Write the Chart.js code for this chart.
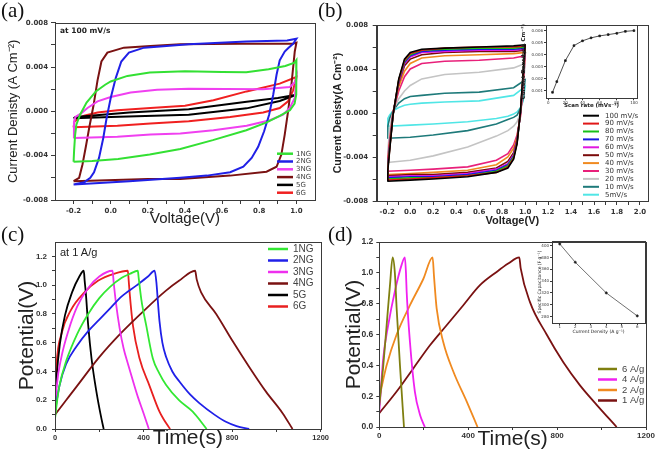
<!DOCTYPE html>
<html>
<head>
<meta charset="utf-8">
<script src="https://cdn.jsdelivr.net/npm/chart.js@4.4.1/dist/chart.umd.min.js"></script>
<style>
  html, body { margin: 0; padding: 0; background: #fff; }
  #fig { position: relative; width: 656px; height: 453px; overflow: hidden; }
  canvas { position: absolute; }
  .tag { position: absolute; font-family: "Liberation Serif", serif; font-size: 21px; line-height: 1; color: #111; }
  .note { position: absolute; white-space: nowrap; line-height: 1; color: #222; }
</style>
</head>
<body>
<div id="fig">
  <canvas id="ca" style="left:0;top:0" width="328" height="226"></canvas>
  <canvas id="cb" style="left:328px;top:0" width="328" height="226"></canvas>
  <canvas id="cc" style="left:0;top:226px" width="330" height="227"></canvas>
  <canvas id="cd" style="left:330px;top:226px" width="326" height="227"></canvas>
  <canvas id="cbi" style="left:518px;top:20px" width="124" height="92"></canvas>
  <canvas id="cdi" style="left:526px;top:236px" width="124" height="101"></canvas>
  <div class="tag" style="left:1px;top:0">(a)</div>
  <div class="tag" style="left:318px;top:0">(b)</div>
  <div class="tag" style="left:1px;top:224px">(c)</div>
  <div class="tag" style="left:328px;top:224px">(d)</div>
  <div class="note" style="left:60px;top:26px;font:bold 7.5px 'DejaVu Sans'">at 100 mV/s</div>
  <div class="note" style="left:60px;top:246px;font:11px 'Liberation Sans'">at 1 A/g</div>
</div>
<script>
// ---- (a) CV loops at 100 mV/s, points are [voltage, current density] ----
const aLabels = ["1NG", "2NG", "3NG", "4NG", "5G", "6G"];
const aColors = ["#33e033", "#2020e6", "#f040f0", "#7a1212", "#000000", "#f02020"];
const cv1NG = [[-0.2,-0.00455],[-0.197,-0.0035],[-0.192,-0.0022],[-0.185,-0.0012],[-0.165,-0.0003],[-0.13,0.0008],[-0.08,0.0018],[-0.03,0.0024],[0.0,0.0027],[0.09,0.0032],[0.21,0.0035],[0.4,0.00362],[0.6,0.00355],[0.73,0.00352],[0.85,0.0038],[0.94,0.0041],[0.99,0.0044],[1.0,0.00463],
  [1.0,0.003],[0.998,0.0015],[0.99,0.0007],[0.965,0.0001],[0.91,-0.0004],[0.84,-0.001],[0.73,-0.0017],[0.55,-0.0026],[0.375,-0.0034],[0.21,-0.0039],[0.04,-0.0043],[-0.1,-0.00448],[-0.2,-0.00455]];
const cv2NG = [[-0.2,-0.0066],[-0.143,-0.0064],[-0.11,-0.006],[-0.09,-0.0055],[-0.063,-0.0042],[-0.04,-0.0024],[-0.022,-0.0006],[0.0,0.0012],[0.027,0.003],[0.057,0.0045],[0.098,0.0053],[0.18,0.00575],[0.42,0.00605],[0.73,0.0063],[0.95,0.0064],[1.0,0.00655],
  [0.982,0.0061],[0.955,0.0057],[0.937,0.0054],[0.91,0.0046],[0.893,0.0033],[0.875,0.0015],[0.853,-0.0003],[0.826,-0.0018],[0.794,-0.0032],[0.759,-0.0042],[0.714,-0.005],[0.643,-0.0055],[0.518,-0.0058],[0.375,-0.006],[0.1,-0.0063],[-0.2,-0.0066]];
const cv3NG = [[-0.2,-0.0024],[-0.198,-0.001],[-0.19,-0.0005],[-0.161,-0.0002],[-0.125,0.0003],[-0.071,0.0009],[0.0,0.0013],[0.107,0.0017],[0.25,0.00195],[0.42,0.00203],[0.82,0.002],[0.964,0.0022],[0.99,0.0026],[1.0,0.0031],
  [0.991,0.0012],[0.964,0.0003],[0.928,-0.0003],[0.857,-0.0008],[0.732,-0.0013],[0.553,-0.0017],[0.375,-0.002],[0.214,-0.0021],[0.036,-0.0023],[-0.2,-0.0024]];
const cv4NG = [[-0.2,-0.0063],[-0.17,-0.006],[-0.152,-0.0048],[-0.134,-0.0032],[-0.116,-0.0015],[-0.093,0.0005],[-0.071,0.0028],[-0.05,0.0045],[-0.018,0.0053],[0.071,0.00575],[0.214,0.0059],[0.375,0.00605],[0.7,0.0061],[0.98,0.0061],[1.0,0.0062],
  [0.991,0.0054],[0.973,0.0024],[0.955,0.0],[0.937,-0.0021],[0.919,-0.0039],[0.893,-0.005],[0.839,-0.00545],[0.643,-0.0058],[0.375,-0.0061],[0.2,-0.0061],[-0.2,-0.0063]];
const cv5G = [[-0.2,-0.00062],[-0.19,-0.0005],[0.1,-0.0001],[0.42,0.0002],[0.732,0.00087],[0.9,0.0012],[1.0,0.0015],
  [0.91,0.00093],[0.732,0.00027],[0.42,-0.0003],[0.0,-0.0005],[-0.2,-0.00062]];
const cv6G = [[-0.2,-0.00144],[-0.195,-0.0009],[-0.17,-0.0006],[-0.143,-0.0004],[-0.071,-0.0001],[0.036,0.0001],[0.214,0.0003],[0.4,0.0005],[0.553,0.001],[0.732,0.0018],[0.91,0.0025],[1.0,0.0031],
  [0.982,0.0019],[0.955,0.0009],[0.91,0.0003],[0.821,-0.0001],[0.643,-0.0005],[0.42,-0.0009],[0.214,-0.0011],[0.036,-0.0013],[-0.2,-0.00144]];

// ---- (b) CV at different scan rates: forward sweep on vUpB, reverse on vDnB ----
const bLabels = ["100 mV/s","90 mV/s","80 mV/s","70 mV/s","60 mV/s","50 mV/s","40 mV/s","30 mV/s","20 mV/s","10 mV/s","5mV/s"];
const bColors = ["#000000","#e01818","#18c018","#1818e0","#e018e0","#7a0a0a","#f08a20","#e8207a","#c4c4c4","#1e7a7a","#50e6e6"];
const vUpB = [-0.2, -0.195, -0.18, -0.15, -0.1, -0.05, 0, 0.1, 0.3, 0.6, 0.9, 1.0];
const vDnB = [1.0, 0.98, 0.96, 0.93, 0.9, 0.85, 0.75, 0.5, 0.2, 0, -0.2];
const up100 = [-0.0062,-0.0052,-0.0035,-0.0002,0.0031,0.0049,0.0055,0.0058,0.0059,0.0060,0.0061,0.0062];
const dn100 = [0.0062,0.0032,0.0002,-0.0028,-0.0042,-0.0050,-0.0054,-0.0058,-0.0060,-0.0061,-0.0062];
const up90 = [-0.0061,-0.0051,-0.0034,-0.0002,0.0030,0.0048,0.0054,0.0057,0.0059,0.0060,0.0060,0.0061];
const dn90 = [0.0061,0.0031,0.0002,-0.0027,-0.0041,-0.0049,-0.0054,-0.0057,-0.0059,-0.0060,-0.0061];
const up80 = [-0.0060,-0.0050,-0.0033,-0.0002,0.0030,0.0047,0.0053,0.0057,0.0058,0.0059,0.0059,0.0060];
const dn80 = [0.0060,0.0030,0.0001,-0.0027,-0.0040,-0.0048,-0.0053,-0.0057,-0.0059,-0.0059,-0.0060];
const up70 = [-0.0059,-0.0049,-0.0032,-0.0002,0.0029,0.0046,0.0052,0.0056,0.0057,0.0058,0.0058,0.0059];
const dn70 = [0.0059,0.0029,0.0001,-0.0026,-0.0039,-0.0047,-0.0052,-0.0056,-0.0058,-0.0058,-0.0059];
const up60 = [-0.0058,-0.0048,-0.0031,-0.0001,0.0028,0.0045,0.0051,0.0055,0.0056,0.0057,0.0057,0.0058];
const dn60 = [0.0058,0.0028,0.0,-0.0025,-0.0038,-0.0046,-0.0051,-0.0055,-0.0057,-0.0057,-0.0058];
const up50 = [-0.0057,-0.0047,-0.0030,-0.0001,0.0027,0.0043,0.0049,0.0053,0.0055,0.0056,0.0056,0.0057];
const dn50 = [0.0057,0.0027,0.0,-0.0024,-0.0036,-0.0044,-0.0050,-0.0054,-0.0056,-0.0056,-0.0057];
const up40 = [-0.0056,-0.0045,-0.0028,0.0,0.0024,0.0038,0.0045,0.0050,0.0052,0.0053,0.0054,0.0055];
const dn40 = [0.0055,0.0025,-0.0001,-0.0022,-0.0032,-0.0040,-0.0047,-0.0052,-0.0054,-0.0055,-0.0056];
const up30 = [-0.0053,-0.0042,-0.0025,0.0001,0.0020,0.0033,0.0040,0.0045,0.0047,0.0048,0.0050,0.0052];
const dn30 = [0.0052,0.0021,-0.0003,-0.0020,-0.0029,-0.0037,-0.0043,-0.0049,-0.0051,-0.0052,-0.0053];
const up20 = [-0.0045,-0.0035,-0.0015,0.0002,0.0013,0.0020,0.0025,0.0031,0.0035,0.0037,0.0041,0.0045];
const dn20 = [0.0045,0.0018,0.0,-0.0008,-0.0012,-0.0016,-0.0021,-0.0031,-0.0039,-0.0043,-0.0045];
const up10 = [-0.0023,-0.0012,-0.0005,0.0002,0.0009,0.0013,0.0015,0.0016,0.0018,0.0019,0.0023,0.0030];
const dn10 = [0.0030,0.0012,0.0004,-0.0002,-0.0004,-0.0006,-0.0010,-0.0016,-0.0020,-0.0022,-0.0023];
const up5 = [-0.0012,-0.0005,-0.0002,0.0002,0.0005,0.0007,0.0008,0.0009,0.0010,0.0011,0.0016,0.0024];
const dn5 = [0.0024,0.0010,0.0005,0.0001,-0.0001,-0.0003,-0.0005,-0.0008,-0.0010,-0.0011,-0.0012];

// inset of (b)
const scanRate = [5, 10, 20, 30, 40, 50, 60, 70, 80, 90, 100];
const peakCurrent = [0.00086, 0.00175, 0.0035, 0.00475, 0.00515, 0.0054, 0.00556, 0.00567, 0.00578, 0.00594, 0.006];

// ---- (c) charge/discharge at 1 A/g, points are [time s, potential V] ----
const cLabels = ["1NG", "2NG", "3NG", "4NG", "5G", "6G"];
const cColors = ["#33e833", "#2020e8", "#ee30ee", "#7a1212", "#000000", "#e82020"];
const gcd1NG = [[0,0.07],[10,0.2],[20,0.3],[50,0.47],[100,0.66],[150,0.8],[200,0.91],[250,0.99],[300,1.05],[340,1.08],[374,1.1],[378,1.05],[390,0.9],[412,0.72],[442,0.49],[470,0.39],[502,0.306],[560,0.2],[622,0.12],[685,0]];
const gcd2NG = [[0,0.12],[20,0.3],[50,0.45],[100,0.58],[150,0.68],[200,0.76],[250,0.84],[300,0.92],[370,1.0],[420,1.06],[450,1.1],[458,1.02],[465,0.88],[472,0.75],[485,0.6],[502,0.5],[530,0.4],[562,0.33],[610,0.24],[652,0.18],[720,0.1],[772,0.05],[820,0.02],[877,0]];
const gcd3NG = [[0,0.1],[8,0.3],[29,0.5],[60,0.68],[100,0.85],[150,0.98],[200,1.06],[260,1.1],[265,1.02],[275,0.88],[292,0.7],[310,0.56],[330,0.45],[355,0.32],[375,0.22],[400,0.11],[424,0]];
const gcd4NG = [[0,0.1],[50,0.2],[100,0.3],[200,0.5],[300,0.67],[400,0.82],[500,0.96],[560,1.03],[633,1.1],[640,1.04],[660,0.95],[728,0.8],[803,0.61],[878,0.43],[953,0.26],[1028,0.11],[1073,0]];
const gcd5G = [[0,0.1],[3,0.2],[8,0.37],[23,0.6],[45,0.79],[77,0.95],[110,1.06],[130,1.1],[134,1.03],[139,0.95],[150,0.72],[165,0.49],[187,0.26],[210,0.07],[220,0]];
const gcd6G = [[0,0.12],[3,0.3],[7,0.45],[29,0.66],[73,0.83],[133,0.95],[194,1.03],[269,1.08],[329,1.1],[333,1.03],[337,0.95],[352,0.72],[382,0.49],[427,0.3],[472,0.12],[490,0.07],[520,0]];

// ---- (d) charge/discharge at several current densities ----
const dLabels = ["6 A/g", "4 A/g", "2 A/g", "1 A/g"];
const dColors = ["#7f7f10", "#f020f0", "#f08a20", "#7a1212"];
const gcd6A = [[0,0.14],[18,0.4],[33,0.66],[48,0.92],[60,1.1],[70,1.0],[78,0.77],[93,0.4],[111,0]];
const gcd4A = [[0,0.1],[18,0.45],[40,0.66],[70,0.88],[100,1.05],[115,1.1],[120,1.0],[123,0.88],[138,0.55],[160,0.23],[183,0.08],[205,0]];
const gcd2A = [[0,0.19],[33,0.4],[78,0.6],[138,0.79],[198,0.96],[240,1.1],[246,0.98],[258,0.77],[288,0.55],[333,0.36],[393,0.166],[442,0]];
const gcd1A = [[0,0.09],[78,0.23],[153,0.38],[228,0.53],[303,0.66],[378,0.79],[453,0.92],[528,1.006],[580,1.06],[630,1.1],[636,1.03],[678,0.81],[753,0.6],[828,0.42],[903,0.27],[978,0.144],[1068,0]];

// inset of (d)
const currentDensity = [1, 2, 4, 6];
const specificCap = [403, 372, 320, 281];

// tick positions and labelled ticks
const aXTicks = [-0.2,-0.1,0,0.1,0.2,0.3,0.4,0.5,0.6,0.7,0.8,0.9,1.0];
const aXLabels = [-0.2,0,0.2,0.4,0.6,0.8,1.0];
const bXTicks = [-0.2,-0.1,0,0.1,0.2,0.3,0.4,0.5,0.6,0.7,0.8,0.9,1.0,1.1,1.2,1.3,1.4,1.5,1.6,1.7,1.8,1.9,2.0];
const bXLabels = [-0.2,0,0.2,0.4,0.6,0.8,1.0,1.2,1.4,1.6,1.8,2.0];
const cvYTicks = [-0.008,-0.006,-0.004,-0.002,0,0.002,0.004,0.006,0.008];
const cvYLabels = [-0.008,-0.004,0,0.004,0.008];
const tTicks = [0,200,400,600,800,1000,1200];
const tLabels = [0,400,800,1200];
const vTicks = [0,0.1,0.2,0.3,0.4,0.5,0.6,0.7,0.8,0.9,1.0,1.1,1.2];
const vLabels = [0,0.2,0.4,0.6,0.8,1.0,1.2];
const biXTicks = [0,20,40,60,80,100];
const biYTicks = [0.001,0.002,0.003,0.004,0.005,0.006];
const diXTicks = [1,2,3,4,5,6];
const diYTicks = [280,300,320,340,360,380,400];

const SANS = "'Liberation Sans', Arial, sans-serif";
const DJV = "'DejaVu Sans', sans-serif";

// box around the plot area
const frame = {
  id: "frame",
  afterDatasetsDraw(chart) {
    const a = chart.chartArea, ctx = chart.ctx;
    ctx.save();
    ctx.strokeStyle = "#3a3a3a";
    ctx.lineWidth = 1;
    ctx.strokeRect(Math.round(a.left) + 0.5, Math.round(a.top) + 0.5,
      Math.round(a.right - a.left), Math.round(a.bottom - a.top));
    ctx.restore();
  }
};

// legend drawn inside the plot from the datasets
const inLegend = {
  id: "inLegend",
  afterDraw(chart, args, o) {
    if (!o || o.x === undefined) return;
    const ctx = chart.ctx;
    ctx.save();
    ctx.font = o.font;
    ctx.textBaseline = "middle";
    chart.data.datasets.forEach((d, i) => {
      const y = o.y + i * o.dy;
      ctx.strokeStyle = d.borderColor;
      ctx.lineWidth = o.lw;
      ctx.beginPath();
      ctx.moveTo(o.x, y);
      ctx.lineTo(o.x + o.len, y);
      ctx.stroke();
      ctx.fillStyle = o.color;
      ctx.fillText(d.label, o.x + o.len + o.gap, y);
    });
    ctx.restore();
  }
};

function axis(o) {
  const horiz = o.pos === "bottom";
  const labels = o.labels || o.ticks;
  return {
    type: "linear",
    position: o.pos,
    min: o.min,
    max: o.max,
    afterBuildTicks: s => { s.ticks = o.ticks.map(v => ({ value: v })); },
    afterFit: s => { if (horiz) s.height = o.size; else s.width = o.size; },
    ticks: {
      autoSkip: false,
      maxRotation: 0,
      padding: o.pad,
      color: "#333",
      font: o.font,
      callback: v => labels.some(l => Math.abs(l - v) < 1e-9) ? o.fmt(v) : ""
    },
    grid: { drawOnChartArea: false, drawTicks: true, tickLength: o.tl, color: "#3a3a3a" },
    border: { display: true, color: "#3a3a3a", width: 1 },
    title: { display: true, text: o.title, color: "#222", font: o.tfont, padding: o.tpad }
  };
}

function lineSet(label, color, pts, width, smooth) {
  return {
    label: label,
    data: pts.map(p => ({ x: p[0], y: p[1] })),
    borderColor: color,
    borderWidth: width,
    showLine: true,
    pointRadius: 0,
    fill: false,
    tension: smooth ? 0.4 : 0,
    cubicInterpolationMode: smooth ? "monotone" : "default"
  };
}

function plot(id, datasets, o) {
  return new Chart(document.getElementById(id), {
    type: "scatter",
    data: { datasets },
    options: {
      responsive: false,
      animation: false,
      events: [],
      layout: { padding: o.pad },
      plugins: { legend: { display: false }, tooltip: { enabled: false }, inLegend: o.legend || false },
      scales: { x: axis(o.x), y: axis(o.y) }
    },
    plugins: [frame, inLegend]
  });
}

const f3 = v => v.toFixed(3);
const f1 = v => v.toFixed(1);
const f0 = v => String(Math.round(v));

// (a)
plot("ca",
  [cv1NG, cv2NG, cv3NG, cv4NG, cv5G, cv6G].map((s, i) => lineSet(aLabels[i], aColors[i], s, 2, false)),
  {
    pad: { left: 0, top: 22.7, right: 13, bottom: 0 },
    legend: { x: 277, y: 153.7, dy: 7.8, len: 16, gap: 3, lw: 2.5, font: "7px 'DejaVu Sans'", color: "#444" },
    x: { pos: "bottom", min: -0.3, max: 1.1, ticks: aXTicks, labels: aXLabels, fmt: f1, size: 26, tl: 4, pad: 3,
      font: { family: DJV, size: 7, weight: "bold" }, title: "Voltage(V)",
      tfont: { family: SANS, size: 15, lineHeight: 1 }, tpad: { top: 0, bottom: 0 } },
    y: { pos: "left", min: -0.008, max: 0.008, ticks: cvYTicks, labels: cvYLabels, fmt: f3, size: 55, tl: 4, pad: 3,
      font: { family: DJV, size: 7, weight: "bold" }, title: "Current Denisty (A Cm\u207B\u00B2)",
      tfont: { family: SANS, size: 13, lineHeight: 1 }, tpad: { top: 6.5, bottom: 0 } }
  });

// (b)
const bUps = [up100, up90, up80, up70, up60, up50, up40, up30, up20, up10, up5];
const bDns = [dn100, dn90, dn80, dn70, dn60, dn50, dn40, dn30, dn20, dn10, dn5];
plot("cb",
  bUps.map((u, i) => lineSet(bLabels[i], bColors[i],
    vUpB.map((v, k) => [v, u[k]]).concat(vDnB.map((v, k) => [v, bDns[i][k]])), 1.6, false)),
  {
    pad: { left: 0, top: 25, right: 8, bottom: 0 },
    legend: { x: 255, y: 115.7, dy: 7.9, len: 16, gap: 6, lw: 2, font: "7px 'DejaVu Sans'", color: "#333" },
    x: { pos: "bottom", min: -0.292, max: 2.07, ticks: bXTicks, labels: bXLabels, fmt: f1, size: 25, tl: 4, pad: 3,
      font: { family: DJV, size: 7, weight: "bold" }, title: "Voltage(V)",
      tfont: { family: SANS, size: 11, weight: "bold", lineHeight: 1 }, tpad: { top: 0, bottom: 0 } },
    y: { pos: "left", min: -0.008, max: 0.008, ticks: cvYTicks, labels: cvYLabels, fmt: f3, size: 48.7, tl: 4, pad: 4.5,
      font: { family: DJV, size: 7, weight: "bold" }, title: "Current Denisty(A Cm\u207B\u00B2)",
      tfont: { family: SANS, size: 10.5, weight: "bold", lineHeight: 1 }, tpad: { top: 4.7, bottom: 0 } }
  });

// (c)
plot("cc",
  [gcd1NG, gcd2NG, gcd3NG, gcd4NG, gcd5G, gcd6G].map((s, i) => lineSet(cLabels[i], cColors[i], s, 1.8, true)),
  {
    pad: { left: 0, top: 16, right: 8, bottom: 0 },
    legend: { x: 268, y: 23, dy: 11.5, len: 20, gap: 5, lw: 2.5, font: "10px 'Liberation Sans'", color: "#444" },
    x: { pos: "bottom", min: 0, max: 1200, ticks: tTicks, labels: tLabels, fmt: f0, size: 24, tl: 3, pad: 1,
      font: { family: SANS, size: 7.5, weight: "bold" }, title: "Time(s)",
      tfont: { family: SANS, size: 21, lineHeight: 1 }, tpad: { top: 0, bottom: 4 } },
    y: { pos: "left", min: 0, max: 1.3, ticks: vTicks, labels: vLabels, fmt: f1, size: 55, tl: 3, pad: 5,
      font: { family: SANS, size: 8, weight: "bold" }, title: "Potential(V)",
      tfont: { family: SANS, size: 21, lineHeight: 1 }, tpad: { top: 16.5, bottom: 0 } }
  });

// (d)
plot("cd",
  [gcd6A, gcd4A, gcd2A, gcd1A].map((s, i) => lineSet(dLabels[i], dColors[i], s, 1.8, true)),
  {
    pad: { left: 0, top: 16, right: 10, bottom: 0 },
    legend: { x: 268, y: 143, dy: 10.5, len: 19, gap: 5, lw: 2.5, font: "9.5px 'Liberation Sans'", color: "#444" },
    x: { pos: "bottom", min: 0, max: 1200, ticks: tTicks, labels: tLabels, fmt: f0, size: 26, tl: 3, pad: 1,
      font: { family: SANS, size: 8, weight: "bold" }, title: "Time(s)",
      tfont: { family: SANS, size: 21, lineHeight: 1 }, tpad: { top: 0, bottom: 3.5 } },
    y: { pos: "left", min: 0, max: 1.2, ticks: vTicks, labels: vLabels, fmt: f1, size: 49.3, tl: 3, pad: 3,
      font: { family: SANS, size: 8.5, weight: "bold" }, title: "Potential(V)",
      tfont: { family: SANS, size: 21, lineHeight: 1 }, tpad: { top: 13.5, bottom: 0 } }
  });

// inset of (b)
plot("cbi",
  [{ label: "peak", data: scanRate.map((r, i) => ({ x: r, y: peakCurrent[i] })), borderColor: "#222",
     backgroundColor: "#111", borderWidth: 0.8, showLine: true, pointStyle: "rect", pointRadius: 1.2 }],
  {
    pad: { left: 0, top: 5, right: 3.7, bottom: 0 },
    x: { pos: "bottom", min: -2.6, max: 103.8, ticks: biXTicks, fmt: f0, size: 13.7, tl: 2, pad: 0,
      font: { family: DJV, size: 4 }, title: "Scan rate (mVs\u207B\u00B9)",
      tfont: { family: DJV, size: 5.5, weight: "bold", lineHeight: 1 }, tpad: { top: 0, bottom: 3.5 } },
    y: { pos: "left", min: 0.00036, max: 0.00647, ticks: biYTicks, fmt: f3, size: 28, tl: 2, pad: 1,
      font: { family: DJV, size: 4 }, title: "Current Density(A Cm\u207B\u00B2)",
      tfont: { family: DJV, size: 5.5, weight: "bold", lineHeight: 1 }, tpad: { top: 3, bottom: 0 } }
  });

// inset of (d)
plot("cdi",
  [{ label: "Cs", data: currentDensity.map((c, i) => ({ x: c, y: specificCap[i] })), borderColor: "#333",
     backgroundColor: "#111", borderWidth: 0.7, showLine: true, pointRadius: 1.1 }],
  {
    pad: { left: 0, top: 5, right: 5, bottom: 0 },
    x: { pos: "bottom", min: 0.5, max: 6.5, ticks: diXTicks, fmt: f0, size: 14, tl: 2, pad: 0,
      font: { family: DJV, size: 4 }, title: "Current Density (A g\u207B\u00B9)",
      tfont: { family: DJV, size: 4.5, lineHeight: 1 }, tpad: { top: 0, bottom: 3 } },
    y: { pos: "left", min: 269, max: 408, ticks: diYTicks, fmt: f0, size: 26, tl: 2, pad: 1,
      font: { family: DJV, size: 4 }, title: "Specific Capacitance (F g\u207B\u00B9)",
      tfont: { family: DJV, size: 4.5, lineHeight: 1 }, tpad: { top: 12, bottom: 0 } }
  });
</script>
</body>
</html>
